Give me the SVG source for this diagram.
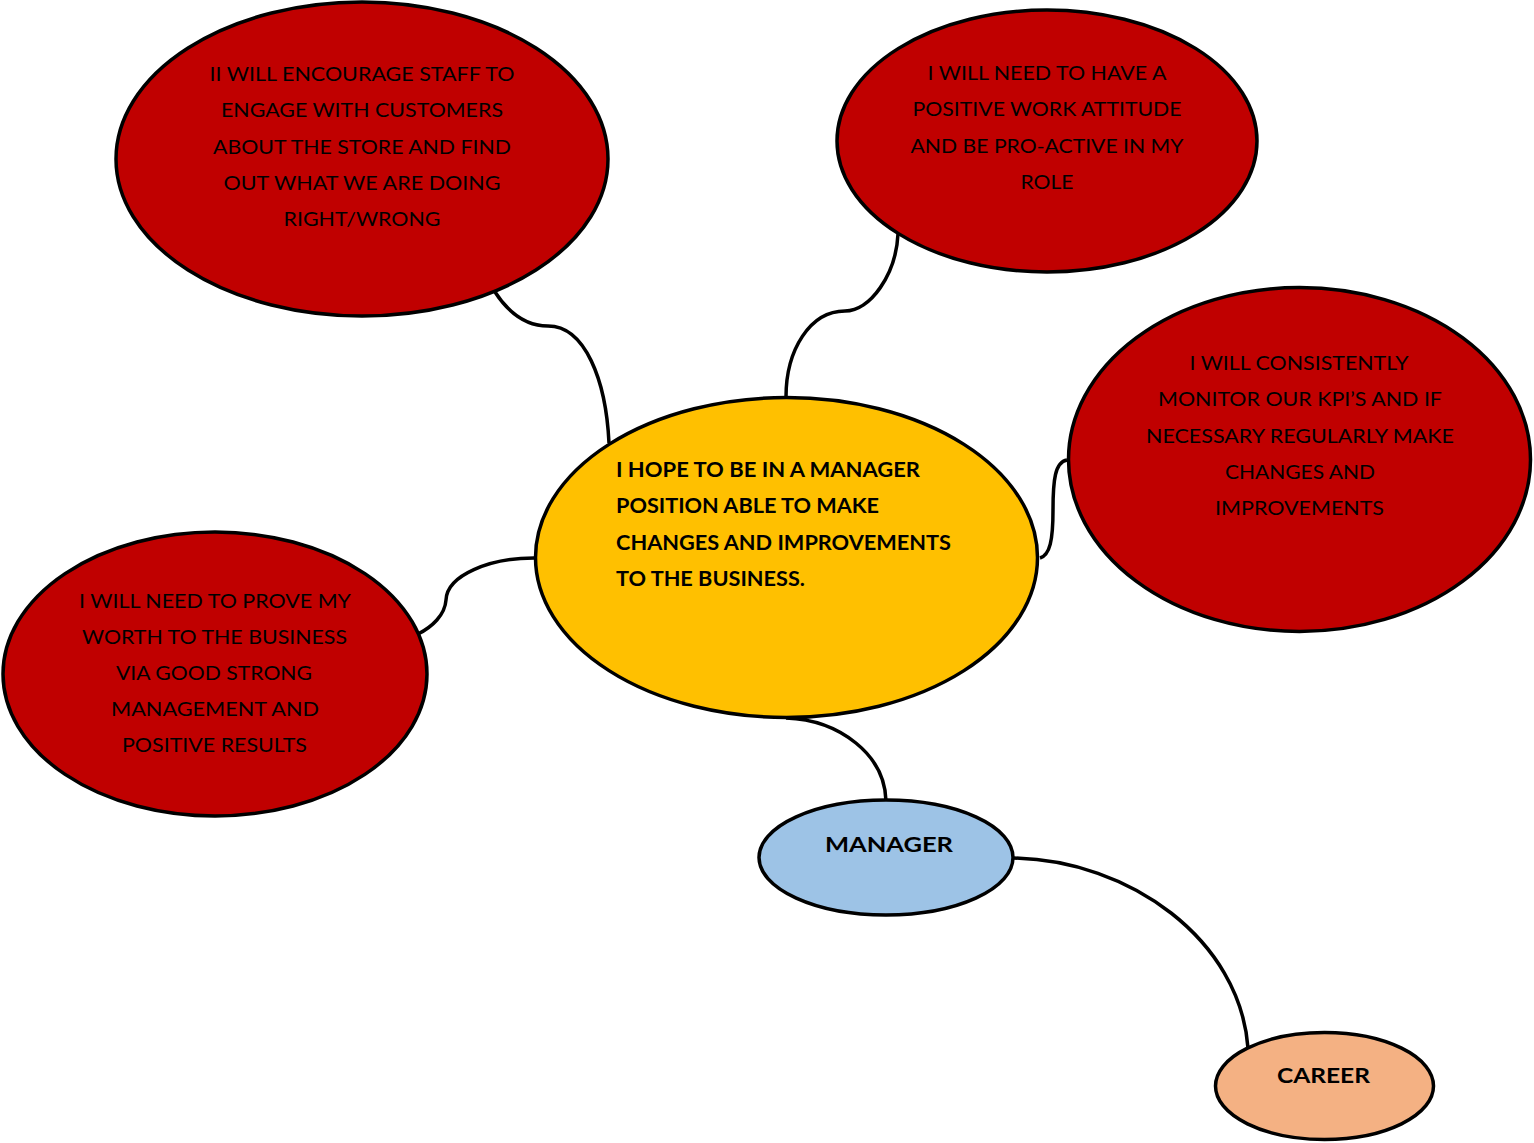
<svg xmlns="http://www.w3.org/2000/svg" width="1534" height="1143" viewBox="0 0 1534 1143">
<style>
.n{stroke:#000;stroke-width:3.5}
.red{fill:#C00000}
.yel{fill:#FFC000}
.blu{fill:#9DC3E6}
.org{fill:#F4B183}
.t{font-family:Lato,"Open Sans","Liberation Sans",sans-serif;font-size:20px;fill:#000;text-anchor:middle}
.b{font-family:Lato,"Open Sans","Liberation Sans",sans-serif;font-size:20px;font-weight:bold;fill:#000}
.c{fill:none;stroke:#000;stroke-width:3.5}
</style>
<rect width="1534" height="1143" fill="#fff"/>
<g id="connectors">
<path class="c" d="M495,292 C510,315 528,326 548,326 C585,326 606,380 609,443"/>
<path class="c" d="M898,234 C896,275 870,311 845,311 C810,311 786,350 786,397"/>
<path class="c" d="M1067,460 C1055,462 1053,480 1053,510 C1053,540 1050,555 1040,558"/>
<path class="c" d="M534,558 C490,558 447,575 446,600 C445,615 432,627 418,634"/>
<path class="c" d="M786,718 C840,720 885,755 886,801"/>
<path class="c" d="M1013,858 C1130,860 1240,940 1248,1048"/>
</g>
<g id="node-encourage">
<ellipse class="n red" cx="362" cy="159" rx="246" ry="157"/>
<text class="t" x="362" y="81" textLength="305" lengthAdjust="spacingAndGlyphs">II WILL ENCOURAGE STAFF TO</text>
<text class="t" x="362" y="117" textLength="282" lengthAdjust="spacingAndGlyphs">ENGAGE WITH CUSTOMERS</text>
<text class="t" x="362" y="154" textLength="298" lengthAdjust="spacingAndGlyphs">ABOUT THE STORE AND FIND</text>
<text class="t" x="362" y="190" textLength="277" lengthAdjust="spacingAndGlyphs">OUT WHAT WE ARE DOING</text>
<text class="t" x="362" y="226" textLength="157" lengthAdjust="spacingAndGlyphs">RIGHT/WRONG</text>
</g>
<g id="node-attitude">
<ellipse class="n red" cx="1047" cy="141" rx="210" ry="131"/>
<text class="t" x="1047" y="80" textLength="239" lengthAdjust="spacingAndGlyphs">I WILL NEED TO HAVE A</text>
<text class="t" x="1047" y="116" textLength="269" lengthAdjust="spacingAndGlyphs">POSITIVE WORK ATTITUDE</text>
<text class="t" x="1047" y="153" textLength="273" lengthAdjust="spacingAndGlyphs">AND BE PRO-ACTIVE IN MY</text>
<text class="t" x="1047" y="189" textLength="53" lengthAdjust="spacingAndGlyphs">ROLE</text>
</g>
<g id="node-kpi">
<ellipse class="n red" cx="1299.5" cy="459.5" rx="231" ry="172"/>
<text class="t" x="1299" y="370" textLength="219" lengthAdjust="spacingAndGlyphs">I WILL CONSISTENTLY</text>
<text class="t" x="1300" y="406" textLength="284" lengthAdjust="spacingAndGlyphs">MONITOR OUR KPI’S AND IF</text>
<text class="t" x="1300" y="443" textLength="308" lengthAdjust="spacingAndGlyphs">NECESSARY REGULARLY MAKE</text>
<text class="t" x="1300" y="479" textLength="150" lengthAdjust="spacingAndGlyphs">CHANGES AND</text>
<text class="t" x="1299.5" y="515" textLength="169" lengthAdjust="spacingAndGlyphs">IMPROVEMENTS</text>
</g>
<g id="node-prove">
<ellipse class="n red" cx="215" cy="674" rx="212" ry="142"/>
<text class="t" x="215" y="608" textLength="272" lengthAdjust="spacingAndGlyphs">I WILL NEED TO PROVE MY</text>
<text class="t" x="214.5" y="644" textLength="265" lengthAdjust="spacingAndGlyphs">WORTH TO THE BUSINESS</text>
<text class="t" x="214" y="680" textLength="196" lengthAdjust="spacingAndGlyphs">VIA GOOD STRONG</text>
<text class="t" x="215" y="716" textLength="208" lengthAdjust="spacingAndGlyphs">MANAGEMENT AND</text>
<text class="t" x="214.5" y="752" textLength="185" lengthAdjust="spacingAndGlyphs">POSITIVE RESULTS</text>
</g>
<g id="node-center">
<ellipse class="n yel" cx="786.5" cy="557.5" rx="251" ry="160"/>
<text class="b" x="616" y="477" textLength="304" lengthAdjust="spacingAndGlyphs">I HOPE TO BE IN A MANAGER</text>
<text class="b" x="616" y="513" textLength="263" lengthAdjust="spacingAndGlyphs">POSITION ABLE TO MAKE</text>
<text class="b" x="616" y="550" textLength="335" lengthAdjust="spacingAndGlyphs">CHANGES AND IMPROVEMENTS</text>
<text class="b" x="616" y="586" textLength="189" lengthAdjust="spacingAndGlyphs">TO THE BUSINESS.</text>
</g>
<g id="node-manager">
<ellipse class="n blu" cx="886" cy="857.5" rx="127" ry="57.5"/>
<text class="b" x="825" y="852" textLength="128" lengthAdjust="spacingAndGlyphs">MANAGER</text>
</g>
<g id="node-career">
<ellipse class="n org" cx="1324.5" cy="1086" rx="109" ry="53.5"/>
<text class="b" x="1277" y="1083" textLength="93" lengthAdjust="spacingAndGlyphs">CAREER</text>
</g>
</svg>
